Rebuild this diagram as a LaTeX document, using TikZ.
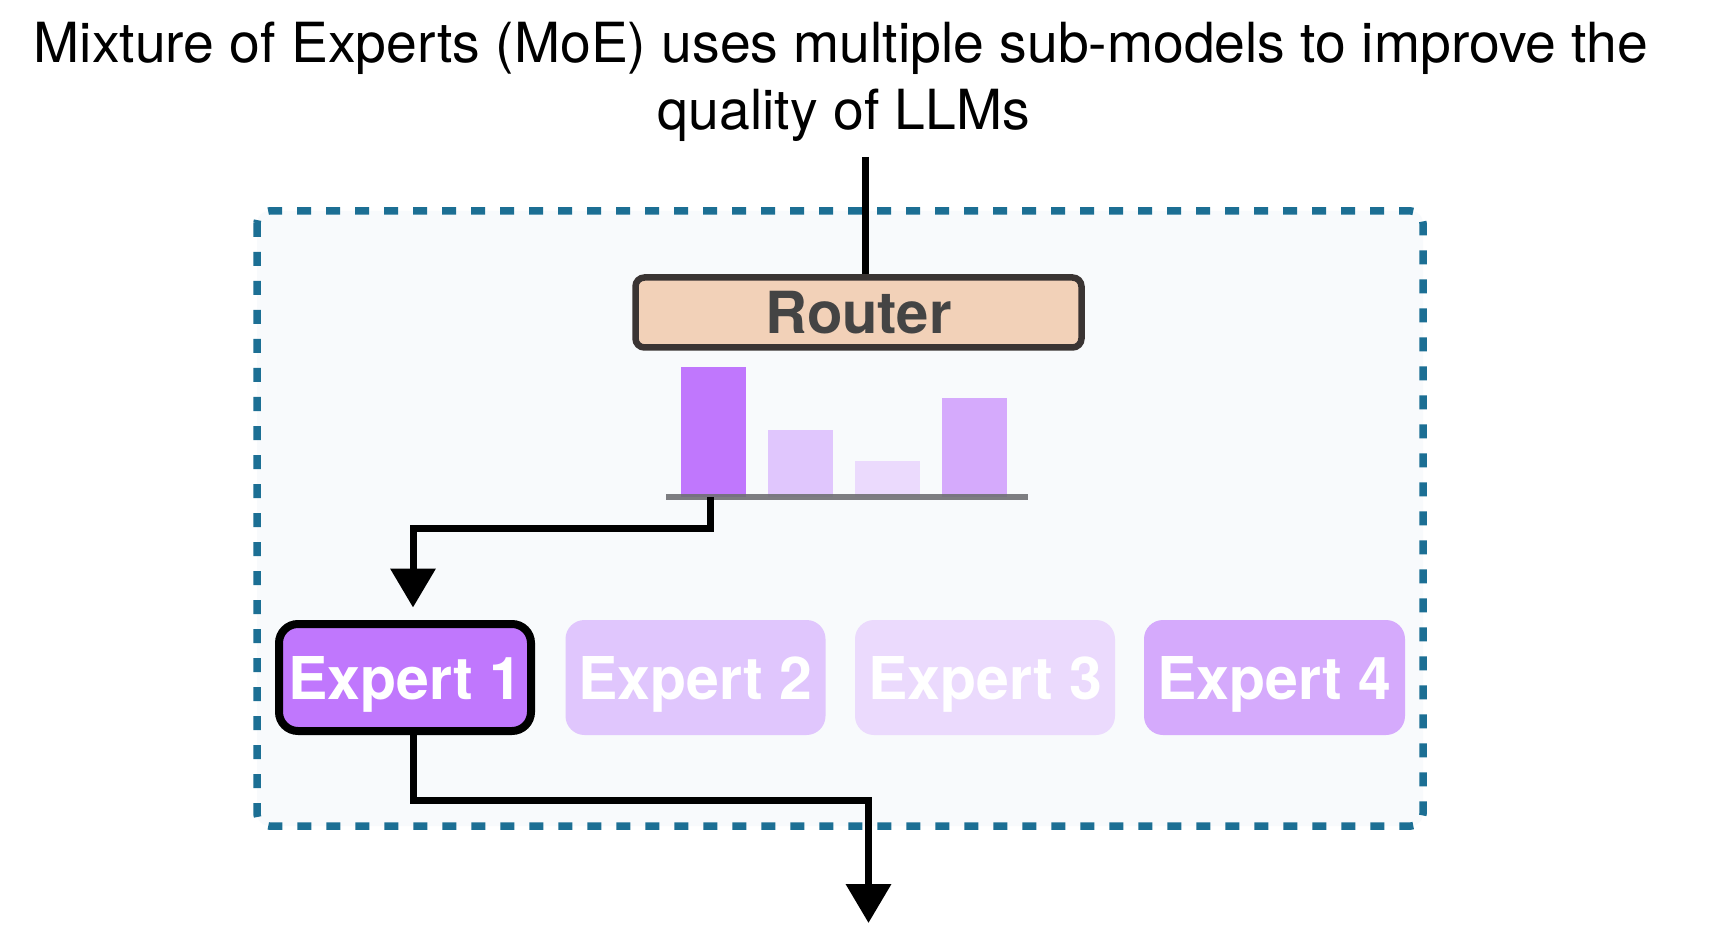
\documentclass[tikz,border=0pt]{standalone}
\usepackage{fontspec}
\setmainfont{TeX Gyre Heros}
\usetikzlibrary{arrows.meta,calc}
\definecolor{peach}{HTML}{F2D1B8}
\definecolor{rborder}{HTML}{3A3433}
\definecolor{rtext}{HTML}{444444}
\definecolor{pa}{HTML}{C077FD}
\definecolor{pb}{HTML}{E0C6FD}
\definecolor{pc}{HTML}{EBDAFD}
\definecolor{pd}{HTML}{D5AAFC}
\definecolor{dashc}{HTML}{1C6F94}
\definecolor{boxfill}{HTML}{F8FAFC}
\definecolor{basec}{HTML}{707074}
\tikzset{
  titletext/.style={font=\fontsize{55.3}{66}\selectfont, text=black, inner sep=0pt, anchor=base},
  routerbox/.style={draw=rborder, line width=6.5pt, fill=peach, rounded corners=9pt,
    minimum width=446pt, minimum height=70pt, inner sep=0pt, text depth=0pt,
    font=\fontsize{58}{58}\selectfont\bfseries, text=rtext},
  expertbox/.style={rounded corners=19pt, minimum width=260pt, minimum height=115pt,
    inner sep=0pt, text depth=0pt, font=\fontsize{59}{59}\selectfont\bfseries, text=white},
  barbox/.style={anchor=south, inner sep=0pt, minimum width=65pt},
  conn/.style={line width=7pt, black},
  bigtip/.style={-{Triangle[length=39pt,width=44pt]}},
}
\begin{document}
\begin{tikzpicture}[x=1pt,y=-1pt]
\useasboundingbox[fill=white] (0,0) rectangle (1716,949);
% container
\draw[dashc, line width=7.5pt, dash pattern=on 14pt off 15pt, fill=boxfill, rounded corners=12pt]
  (257,211) rectangle (1423,826);
% title
\node[titletext] (t1) at (841,63) {Mixture of Experts (MoE) uses multiple sub-models to improve the};
\node[titletext] (t2) at (844,130) {quality of LLMs};
% router
\node[routerbox] (router) at (858.5,312.5) {Router};
\coordinate (in) at (865,157);
\draw[conn] (in) -- (in |- router.north);
% bars
\node[barbox, fill=pa, minimum height=130pt] (bar1) at (713.5,497) {};
\node[barbox, fill=pb, minimum height=67pt] (bar2) at (800.5,497) {};
\node[barbox, fill=pc, minimum height=36pt] (bar3) at (887,497) {};
\node[barbox, fill=pd, minimum height=99pt] (bar4) at (974.5,497) {};
\coordinate (bl) at (666,497);
\coordinate (br) at (1028,497);
\draw[basec, line width=6pt, opacity=0.9] (bl) -- (br);
% experts
\node[expertbox, draw=black, line width=8pt, fill=pa, minimum width=252pt, minimum height=107pt] (e1) at (405,677.5) {Expert 1};
\node[expertbox, fill=pb] (e2) at (695.5,677.5) {Expert 2};
\node[expertbox, fill=pc] (e3) at (985,677.5) {Expert 3};
\node[expertbox, fill=pd, minimum width=261pt] (e4) at (1274.5,677.5) {Expert 4};
% connectors
\coordinate (out) at (868.5,923);
\draw[conn, bigtip] ($(bar1.south)+(-3.5,0)$) -- ++(0,31.5) -| ($(e1.north)+(8,-12.5)$);
\draw[conn, bigtip] ($(e1.south)+(8,0)$) -- ++(0,65) -| (out);
\end{tikzpicture}
\end{document}
